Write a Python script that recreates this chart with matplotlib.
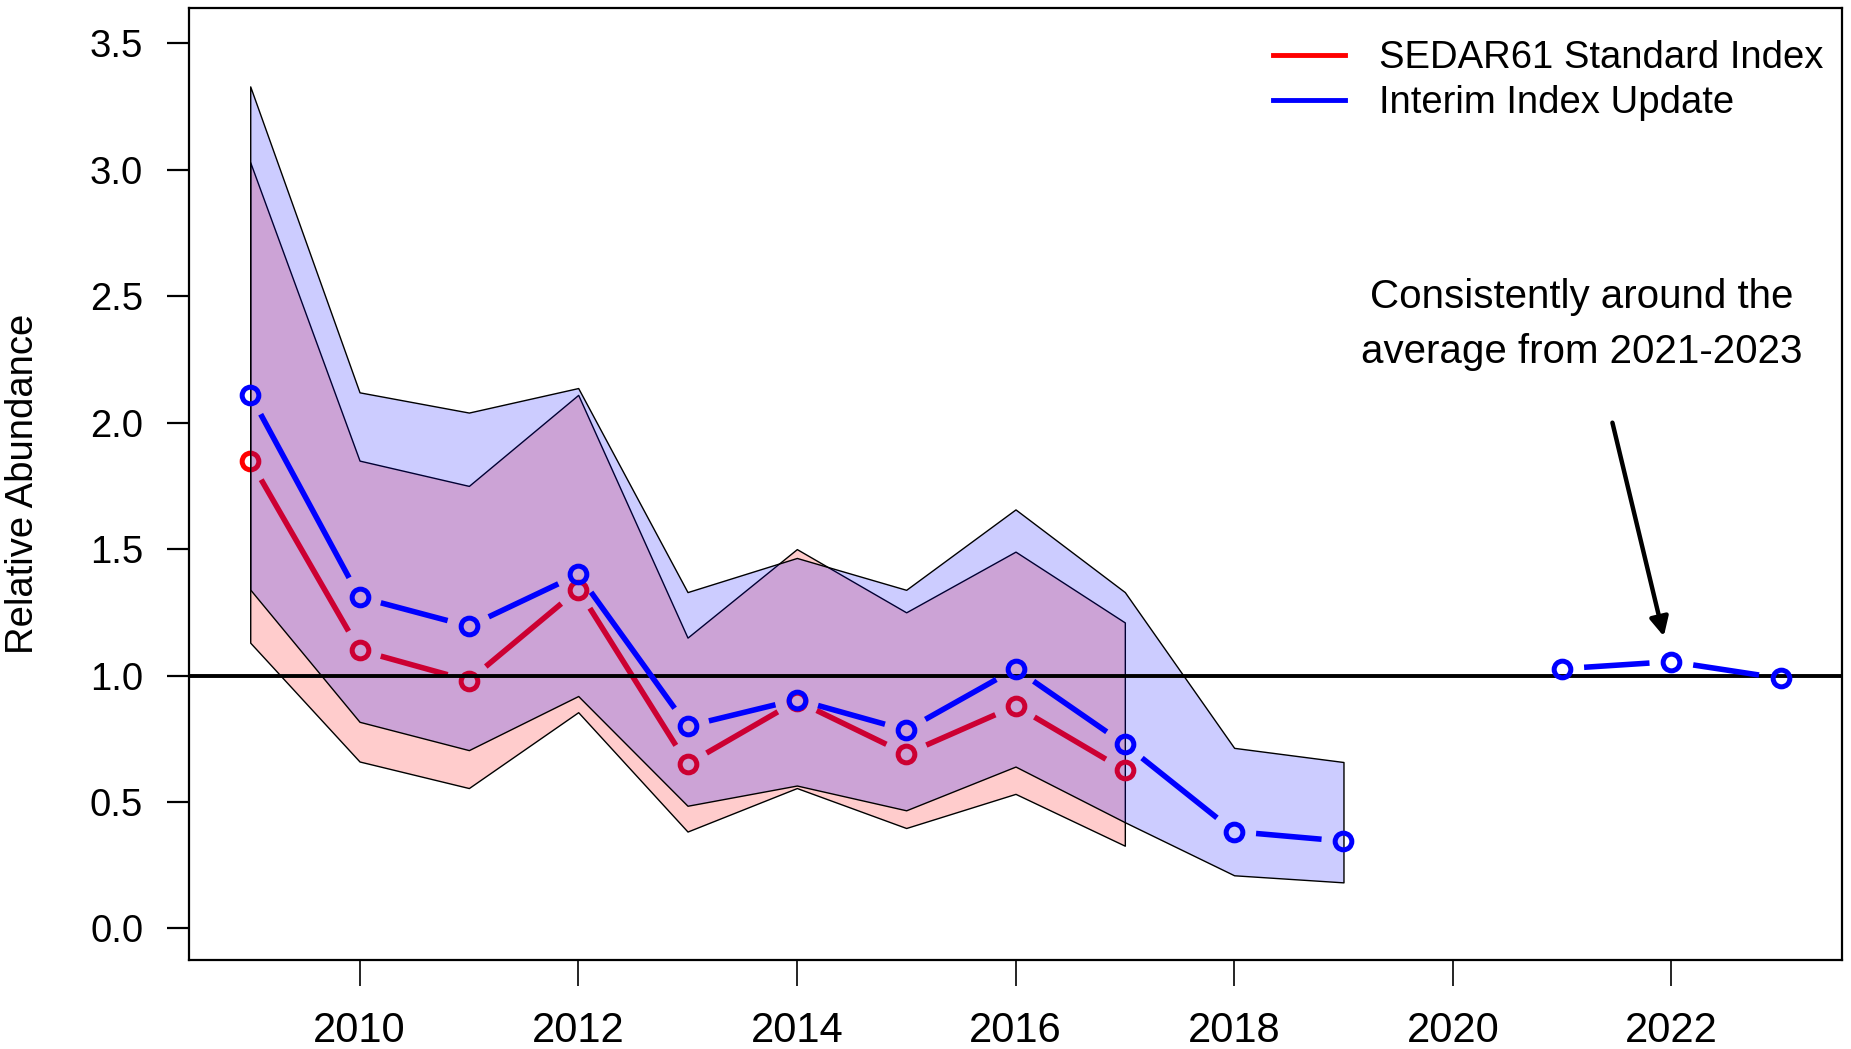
import numpy as np
import matplotlib
matplotlib.use("Agg")
import matplotlib.pyplot as plt
from matplotlib.lines import Line2D
from matplotlib import font_manager as fm

# ---------------- data ----------------
years_red = [2009, 2010, 2011, 2012, 2013, 2014, 2015, 2016, 2017]
red_index = [1.85, 1.10, 0.98, 1.34, 0.65, 0.90, 0.69, 0.88, 0.625]
red_upper = [3.03, 1.85, 1.75, 2.11, 1.15, 1.50, 1.25, 1.49, 1.21]
red_lower = [1.13, 0.66, 0.555, 0.855, 0.383, 0.555, 0.397, 0.532, 0.327]

years_blue = [2009, 2010, 2011, 2012, 2013, 2014, 2015, 2016, 2017, 2018, 2019,
              2020, 2021, 2022, 2023]
blue_index = [2.11, 1.31, 1.195, 1.40, 0.80, 0.905, 0.784, 1.027, 0.728, 0.383, 0.345,
              np.nan, 1.027, 1.055, 0.989]
years_band_blue = [2009, 2010, 2011, 2012, 2013, 2014, 2015, 2016, 2017, 2018, 2019]
blue_upper = [3.33, 2.12, 2.04, 2.137, 1.33, 1.465, 1.339, 1.657, 1.33, 0.714, 0.658]
blue_lower = [1.34, 0.817, 0.705, 0.919, 0.485, 0.565, 0.467, 0.64, 0.42, 0.21, 0.182]

xticks = [2010, 2012, 2014, 2016, 2018, 2020, 2022]
yticks = [0.0, 0.5, 1.0, 1.5, 2.0, 2.5, 3.0, 3.5]
legend_labels = ["SEDAR61 Standard Index", "Interim Index Update"]
annot_text = "Consistently around the\naverage from 2021-2023"

# ---------------- fonts ----------------
names = {f.name for f in fm.fontManager.ttflist}
regular = "Liberation Sans" if "Liberation Sans" in names else "DejaVu Sans"
plt.rcParams["font.family"] = [regular, "DejaVu Sans"]

W, H = 1851, 1049
fig = plt.figure(figsize=(W / 100, H / 100), dpi=100)
ax = fig.add_axes([189 / W, 1 - 960 / H, (1842 - 189) / W, (960 - 8) / H])
ax.set_xlim(2008.44, 2023.56)
ax.set_ylim(-0.125, 3.64)

for s in ax.spines.values():
    s.set_linewidth(1.6)
    s.set_color("black")


def gapped(ax, xs, ys, gap_px, **kw):
    """R type='b' style: segments between points with a gap around each point."""
    pts = ax.transData.transform(np.column_stack([xs, ys]))
    inv = ax.transData.inverted()
    for i in range(len(xs) - 1):
        if np.isnan(ys[i]) or np.isnan(ys[i + 1]):
            continue
        p0, p1 = pts[i], pts[i + 1]
        d = p1 - p0
        L = np.hypot(*d)
        if L <= 2 * gap_px:
            continue
        u = d / L
        a = inv.transform(p0 + u * gap_px)
        b = inv.transform(p1 - u * gap_px)
        ax.plot([a[0], b[0]], [a[1], b[1]], solid_capstyle="butt", **kw)


RED = "#FF0000"
BLUE = "#0000FF"
MS, MEW, LW = 12, 3.6, 4.0

# red band + red line
ax.fill_between(years_red, red_lower, red_upper, facecolor=(1, 0, 0, 0.2),
                edgecolor="black", linewidth=1.0, zorder=1)
gapped(ax, years_red, red_index, 22, color=RED, lw=LW, zorder=2)
ax.plot(years_red, red_index, ls="none", marker="o", ms=MS, mfc="none",
        mec=RED, mew=MEW, zorder=2)

# blue band (drawn over red things, tinting them)
ax.fill_between(years_band_blue, blue_lower, blue_upper, facecolor=(0, 0, 1, 0.2),
                edgecolor="black", linewidth=1.0, zorder=3)

ax.axhline(1.0, color="black", lw=2.8, zorder=4)

gapped(ax, years_blue, blue_index, 22, color=BLUE, lw=LW, zorder=5)
ax.plot(years_blue, blue_index, ls="none", marker="o", ms=MS, mfc="none",
        mec=BLUE, mew=MEW, zorder=5)

# axes ticks
ax.set_xticks(xticks)
ax.set_xticklabels([str(t) for t in xticks], fontsize=30)
ax.set_yticks(yticks)
ax.set_yticklabels([f"{t:.1f}" for t in yticks], fontsize=27.5)
ax.tick_params(axis="x", length=19, width=1.2, pad=18, direction="out")
ax.tick_params(axis="y", length=16, width=1.6, pad=17, direction="out")
ax.set_ylabel("Relative Abundance", fontsize=27.5)
ax.yaxis.set_label_coords((41 - 189) / (1842 - 189), 0.5)

# legend
handles = [Line2D([], [], color=RED, lw=3.5), Line2D([], [], color=BLUE, lw=3.5)]
ax.legend(handles, legend_labels, loc="upper right", frameon=False, fontsize=27.5,
          handlelength=1.88, handletextpad=0.9, labelspacing=0.22,
          bbox_to_anchor=(1.0085, 1.0), borderaxespad=0.45)

# annotation
ax.text(2021.18, 2.388, annot_text, ha="center", va="center",
        fontsize=29, linespacing=1.54)
ax.annotate("", xy=(2021.93, 1.155), xytext=(2021.46, 2.0),
            arrowprops=dict(arrowstyle="-|>", lw=3.2, color="black",
                            mutation_scale=28, shrinkA=0, shrinkB=0))

fig.savefig("out.png", dpi=100)
